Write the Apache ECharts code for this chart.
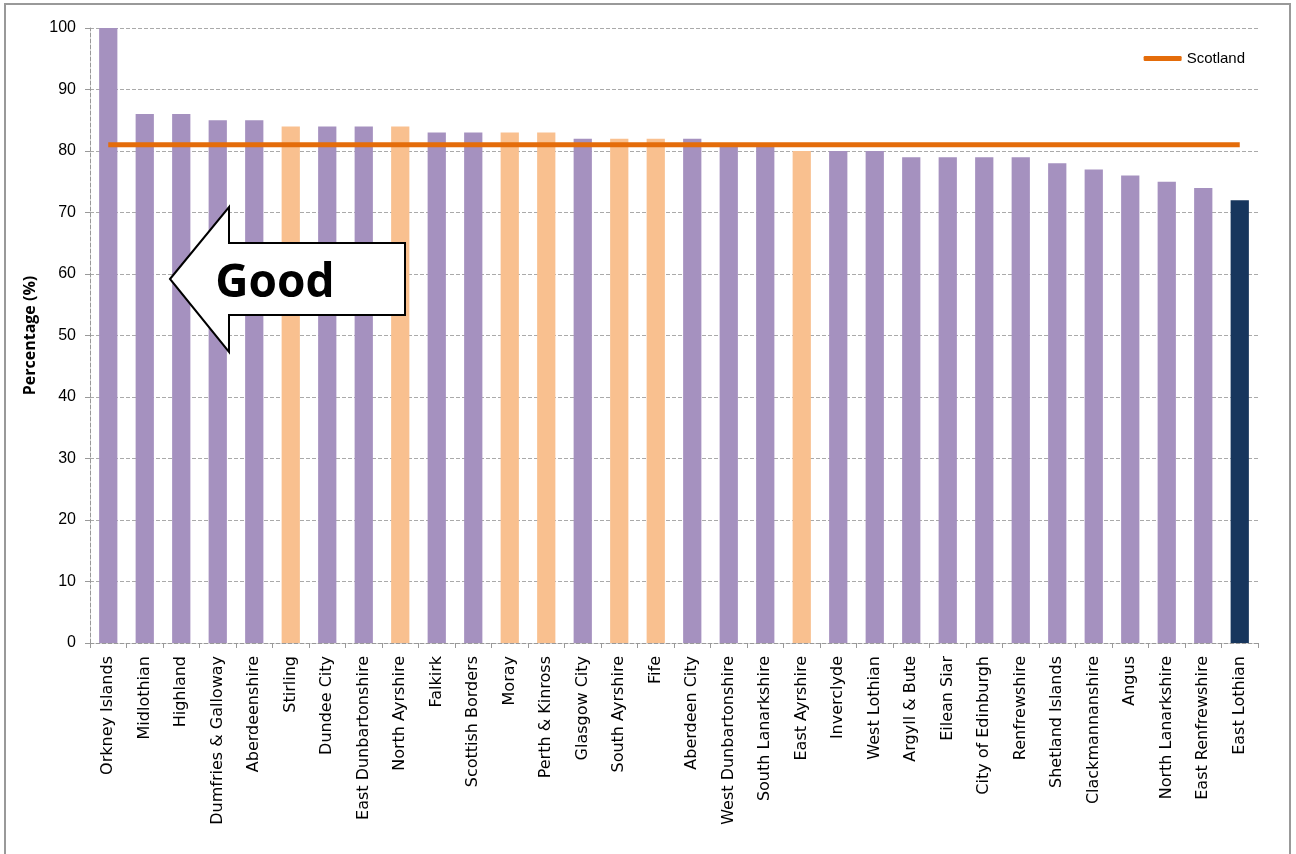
<!DOCTYPE html>
<html><head><meta charset="utf-8">
<script src="https://cdn.jsdelivr.net/npm/echarts@6/dist/echarts.min.js"></script>
<style>html,body{margin:0;padding:0;background:#fff}#c{width:1296px;height:854px}</style>
</head><body><div id="c"></div>
<script>
const categories = ["Orkney Islands","Midlothian","Highland","Dumfries & Galloway","Aberdeenshire","Stirling","Dundee City","East Dunbartonshire","North Ayrshire","Falkirk","Scottish Borders","Moray","Perth & Kinross","Glasgow City","South Ayrshire","Fife","Aberdeen City","West Dunbartonshire","South Lanarkshire","East Ayrshire","Inverclyde","West Lothian","Argyll & Bute","Eilean Siar","City of Edinburgh","Renfrewshire","Shetland Islands","Clackmannanshire","Angus","North Lanarkshire","East Renfrewshire","East Lothian"];
const values = [100,86,86,85,85,84,84,84,84,83,83,83,83,82,82,82,82,81,81,80,80,80,79,79,79,79,78,77,76,75,74,72];
// group: 0 = other, 1 = highlighted comparator, 2 = selected area
const groups = [0,0,0,0,0,1,0,0,1,0,0,1,1,0,1,1,0,0,0,1,0,0,0,0,0,0,0,0,0,0,0,2];
const scotlandValue = 81;
const yTicks = [0,10,20,30,40,50,60,70,80,90,100];

const groupColors = ["#A591BF","#F9C08F","#17365D"];
const chart = echarts.init(document.getElementById('c'));
chart.setOption({
  animation:false,
  backgroundColor:'#fff',
  grid:{left:90,right:38,top:28,bottom:211},
  legend:{show:true,right:46,top:46,itemWidth:38,itemHeight:5,itemGap:4,
    data:[{name:'Scotland',icon:'roundRect'}],
    textStyle:{fontFamily:'Liberation Sans',fontSize:15,color:'#000'}},
  xAxis:{type:'category',data:categories,boundaryGap:true,
    axisLine:{lineStyle:{color:'#999',type:'dashed'}},
    axisTick:{show:true,alignWithLabel:false,length:5,lineStyle:{color:'#999'}},
    axisLabel:{interval:0,rotate:90,fontFamily:'DejaVu Sans',fontSize:16,color:'#000',margin:13}},
  yAxis:{type:'value',min:yTicks[0],max:yTicks[yTicks.length-1],interval:10,
    name:'Percentage (%)',nameLocation:'middle',nameGap:50,
    nameTextStyle:{fontFamily:'Open Sans',fontWeight:'bold',fontSize:16,color:'#000'},
    axisLine:{show:true,lineStyle:{color:'#999',type:'dashed'}},
    axisTick:{show:true,length:5,lineStyle:{color:'#999'}},
    axisLabel:{fontFamily:'Liberation Sans',fontSize:16,color:'#000',margin:14},
    splitLine:{lineStyle:{color:'#aaa',type:'dashed',width:1}}},
  series:[
    {type:'bar',name:'Areas',barWidth:'50%',
     data:values.map((v,i)=>({value:v,itemStyle:{color:groupColors[groups[i]]}}))},
    {type:'line',name:'Scotland',data:values.map(()=>scotlandValue),symbol:'none',
     lineStyle:{color:'#E46C0A',width:5},itemStyle:{color:'#E46C0A'},z:5}
  ],
  graphic:[
    {type:'rect',shape:{x:5,y:4,width:1285,height:870},style:{fill:'none',stroke:'#999',lineWidth:2},silent:true,z:0},
    {type:'polygon',z:100,shape:{points:[[170,279],[229,207],[229,243],[405,243],[405,315],[229,315],[229,352]]},
     style:{fill:'#fff',stroke:'#000',lineWidth:2}},
    {type:'text',z:101,style:{text:'Good',x:275,y:284,align:'center',verticalAlign:'middle',
     font:'bold 46px "Open Sans"',fill:'#000'}}
  ]
});
</script></body></html>
